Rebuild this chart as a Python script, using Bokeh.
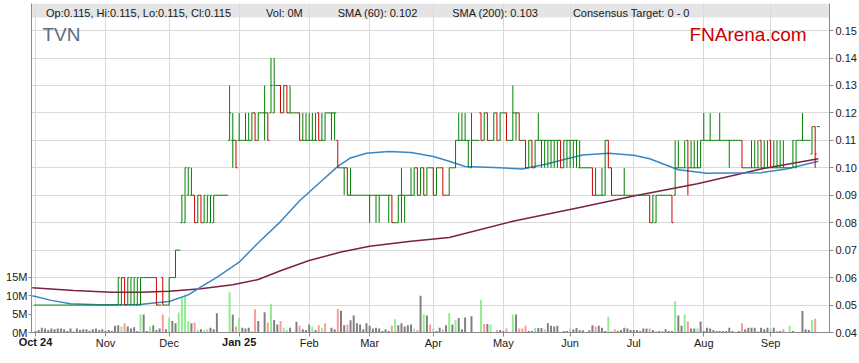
from bokeh.plotting import figure
from bokeh.models import (Range1d, LinearAxis, FixedTicker, PrintfTickFormatter,
                          ColumnDataSource, BoxAnnotation, Label, Legend, LegendItem)
from bokeh.embed import file_html
from bokeh.resources import INLINE

FONT = "Liberation Sans"

ticker_symbol = "TVN"
brand = "FNArena.com"

# trading-day index of the first session of each month, with labels
month_idx = [0, 22, 42, 64, 86, 105, 125, 147, 168, 188, 210, 231]
month_labels = ["Oct 24", "Nov", "Dec", "Jan 25", "Feb", "Mar", "Apr", "May", "Jun", "Jul", "Aug", "Sep"]
bold_months = ["Oct 24", "Jan 25"]

price_ticks = [0.04, 0.05, 0.06, 0.07, 0.08, 0.09, 0.10, 0.11, 0.12, 0.13, 0.14, 0.15]
vol_ticks = [0, 5, 10, 15]

# daily prices in cents (Oct 2024 - Sep 2025)
opens_c = [
    5, 5, 5, 5, 5, 5, 5, 5, 5, 5,
    5, 5, 5, 5, 5, 5, 5, 5, 5, 5,
    5, 5, 5, 5, 5, 5, 5, 5, 6, 5,
    5, 5, 5, 5, 6, 6, 6, 6, 6, 5,
    6, 5, 5, 6, 6, 7, 8, 8, 9, 9,
    9, 8, 9, 8, 8, 8, 8, 9, 9, 9,
    9, 11, 11, 11, 11, 11, 11, 11, 11, 12,
    11, 12, 12, 12, 12, 12, 13, 13, 12, 13,
    12, 12, 12, 12, 11, 11, 11, 11, 11, 12,
    11, 11, 12, 12, 12, 11, 10, 10, 10, 9,
    9, 9, 9, 9, 9, 9, 9, 9, 9, 9,
    9, 9, 9, 8, 8, 9, 9, 9, 9, 9,
    10, 9, 10, 9, 10, 10, 9, 10, 10, 9,
    9, 10, 10, 11, 11, 11, 11, 10, 11, 11,
    12, 11, 12, 11, 11, 12, 11, 12, 12, 11,
    11, 12, 12, 11, 11, 10, 11, 10, 11, 11,
    11, 11, 11, 11, 11, 11, 10, 11, 11, 11,
    11, 10, 10, 10, 10, 10, 9, 9, 9, 9,
    11, 10, 9, 9, 9, 9, 9, 9, 9, 9,
    9, 9, 9, 9, 8, 8, 9, 9, 9, 9,
    9, 9, 10, 10, 10, 11, 10, 10, 10, 10,
    11, 11, 11, 11, 11, 11, 11, 11, 11, 11,
    11, 11, 11, 10, 10, 10, 10, 10, 11, 10,
    10, 11, 10, 10, 10, 10, 10, 10, 10, 10,
    11, 11, 11, 11, 10.5, 11.5, 11.5,
]
highs_c = [
    5, 5, 5, 5, 5, 5, 5, 5, 5, 5,
    5, 5, 5, 5, 5, 5, 5, 5, 5, 5,
    5, 5, 5, 5, 5, 5, 6, 6, 6, 6,
    6, 6, 6, 6, 6, 6, 6, 6, 6, 5,
    6, 5, 6, 6, 7, 7, 9, 10, 10, 10,
    9, 9, 9, 9, 9, 9, 9, 9, 9, 9,
    9, 13, 12, 11, 12, 11, 12, 12, 12, 12,
    12, 12, 13, 12, 14, 14, 13, 13, 13, 13,
    13, 12, 12, 12, 12, 12, 12, 12, 12, 12,
    12, 12, 12, 12, 12, 11, 10, 10, 10, 10,
    9, 9, 9, 9, 9, 9, 9, 9, 9, 9,
    9, 9, 9, 8, 9, 10, 9, 9, 10, 10,
    10, 10, 10, 10, 10, 10, 10, 10, 10, 9,
    10, 10, 11, 12, 12, 12, 11, 12, 11, 11,
    12, 12, 12, 11, 12, 12, 12, 12, 12, 11,
    13, 12, 12, 11, 11, 11, 11, 11, 12, 11,
    11, 11, 11, 11, 11, 11, 11, 11, 11, 11,
    11, 11, 10, 10, 10, 10, 10, 9, 10, 11,
    11, 10, 9, 9, 9, 10, 9, 9, 9, 9,
    9, 9, 9, 9, 9, 9, 9, 9, 9, 9,
    9, 11, 11, 10, 11, 11, 11, 11, 11, 11,
    12, 11, 12, 11, 11, 12, 11, 11, 11, 11,
    11, 11, 11, 10, 10, 11, 11, 11, 11, 11,
    11, 11, 11, 11, 11, 11, 10, 10, 11, 11,
    11, 12, 11, 11, 11.5, 11.5, 11.5,
]
lows_c = [
    5, 5, 5, 5, 5, 5, 5, 5, 5, 5,
    5, 5, 5, 5, 5, 5, 5, 5, 5, 5,
    5, 5, 5, 5, 5, 5, 5, 5, 5, 5,
    5, 5, 5, 5, 6, 6, 6, 6, 5, 5,
    5, 5, 5, 6, 6, 7, 8, 8, 9, 9,
    8, 8, 8, 8, 8, 8, 8, 9, 9, 9,
    9, 11, 10, 10, 11, 11, 11, 11, 11, 11,
    11, 12, 11, 11, 12, 12, 13, 12, 12, 12,
    12, 12, 12, 11, 11, 11, 11, 11, 11, 11,
    11, 11, 12, 11, 11, 10, 10, 9, 9, 9,
    9, 9, 9, 9, 9, 8, 9, 8, 8, 9,
    9, 8, 8, 8, 8, 8, 8, 9, 9, 9,
    9, 9, 9, 9, 10, 9, 9, 10, 9, 9,
    9, 10, 10, 11, 11, 11, 10, 10, 11, 11,
    11, 11, 11, 11, 11, 11, 11, 12, 11, 11,
    11, 11, 11, 11, 10, 10, 10, 10, 11, 10,
    10, 10, 10, 10, 10, 10, 10, 10, 10, 10,
    10, 10, 10, 10, 10, 9, 9, 9, 9, 9,
    10, 9, 9, 9, 9, 9, 9, 9, 9, 9,
    9, 9, 9, 8, 8, 8, 9, 9, 9, 9,
    8, 9, 10, 10, 10, 9, 10, 10, 10, 10,
    11, 11, 11, 11, 11, 11, 11, 11, 10, 11,
    11, 11, 10, 10, 10, 10, 10, 10, 10, 10,
    10, 10, 10, 10, 10, 10, 10, 10, 10, 10,
    11, 11, 11, 11, 10.5, 10, 11.5,
]
closes_c = [
    5, 5, 5, 5, 5, 5, 5, 5, 5, 5,
    5, 5, 5, 5, 5, 5, 5, 5, 5, 5,
    5, 5, 5, 5, 5, 5, 6, 6, 5, 6,
    6, 6, 6, 6, 6, 6, 6, 6, 5, 5,
    5, 5, 6, 6, 7, 7, 9, 10, 10, 9,
    8, 9, 8, 9, 9, 9, 9, 9, 9, 9,
    9, 12, 11, 10, 11, 11, 11, 11, 12, 11,
    12, 12, 12, 11, 13, 13, 13, 12, 13, 12,
    12, 12, 12, 11, 11, 11, 11, 11, 11, 11,
    11, 12, 12, 12, 12, 10, 10, 10, 9, 9,
    9, 9, 9, 9, 9, 9, 9, 9, 9, 9,
    9, 9, 8, 8, 9, 9, 9, 9, 9, 10,
    9, 10, 9, 10, 10, 9, 10, 10, 9, 9,
    10, 10, 11, 11, 11, 11, 11, 11, 11, 11,
    11, 12, 11, 11, 12, 11, 12, 12, 11, 11,
    12, 12, 11, 11, 10, 11, 10, 11, 11, 11,
    11, 11, 11, 11, 11, 10, 11, 11, 11, 11,
    11, 10, 10, 10, 10, 9, 9, 9, 9, 11,
    10, 9, 9, 9, 9, 9, 9, 9, 9, 9,
    9, 9, 9, 8, 9, 9, 9, 9, 9, 9,
    8, 10, 10, 10, 10, 10, 10, 10, 10, 11,
    11, 11, 11, 11, 11, 11, 11, 11, 11, 11,
    11, 11, 10, 10, 10, 10, 10, 10, 10, 10,
    10, 10, 10, 10, 10, 10, 10, 10, 11, 11,
    11, 11, 11, 11, 11.5, 10.5, 11.5,
]
# daily volume, millions of shares
volumes_m = [
    0.4, 0.7, 1.3, 1.1, 0.7, 1.1, 0.9, 1.1, 1.1, 0.9,
    0.4, 1.1, 0.3, 1.1, 0.7, 0.9, 0.9, 0.5, 0.9, 1.1,
    0.7, 0.9, 0.4, 0.7, 0.4, 1.8, 2.0, 1.6, 2.5, 1.6,
    1.1, 1.4, 0.4, 4.9, 4.9, 0.4, 1.6, 2.0, 0.7, 1.1,
    4.9, 0.9, 4.0, 3.1, 2.5, 5.4, 9.6, 10.3, 3.1, 2.5,
    2.7, 0.7, 0.9, 0.7, 0.9, 1.3, 0.9, 5.2, 0, 0,
    0, 10.9, 4.9, 1.6, 4.0, 1.3, 1.1, 1.3, 0.4, 6.3,
    3.1, 0, 5.5, 2.7, 7.8, 3.4, 2.2, 3.1, 1.3, 0.7,
    1.3, 0, 2.9, 1.8, 0.9, 0.7, 2.2, 1.6, 0.7, 2.0,
    1.3, 2.5, 0, 1.3, 0.9, 6.4, 5.9, 2.0, 2.2, 3.3,
    4.6, 2.5, 2.2, 0.9, 2.5, 1.8, 1.1, 1.3, 1.1, 0.4,
    0.9, 0.4, 1.8, 3.6, 2.0, 2.5, 1.6, 2.0, 2.2, 1.1,
    0.7, 10.0, 4.9, 4.6, 2.2, 1.1, 0.4, 1.3, 0.9, 2.0,
    5.2, 2.2, 3.4, 3.9, 0.9, 4.1, 0, 4.4, 0, 0,
    8.9, 2.3, 2.3, 2.2, 0, 0.7, 0.7, 0.4, 1.1, 0,
    4.9, 4.9, 1.1, 1.1, 1.8, 0.4, 0.4, 1.2, 1.2, 1.2,
    0.9, 2.5, 1.8, 1.6, 1.8, 0, 0.4, 0.4, 1.1, 0.8,
    1.25, 0.6, 0.6, 0, 0.6, 2.0, 1.6, 1.8, 1.3, 0.4,
    4.3, 0.3, 0.9, 0.4, 0.7, 1.3, 1.1, 0.7, 0.7, 0.7,
    0.4, 1.1, 1.1, 1.1, 0.7, 0.4, 0.4, 0.3, 0.9, 0.4,
    0.4, 8.5, 4.6, 1.8, 4.9, 3.0, 1.1, 1.1, 1.1, 3.0,
    0.4, 1.3, 1.1, 0.7, 0.4, 0.4, 0.4, 0.4, 1.3, 0.4,
    0, 0.4, 2.5, 0.9, 1.3, 1.3, 1.3, 0.4, 1.3, 0.9,
    1.3, 1.1, 1.3, 0.3, 0.4, 0.9, 0, 1.8, 0.4, 0,
    0, 5.8, 0.9, 0.7, 3.4, 3.75, 0,
]
# volume bar direction: n = unchanged, g = up, r = down (10 sessions per string)
vol_dir_rows = [
    "nnnnnnnnnn", "nnnnnnnnnn", "nnnnnnngrn", "nnngnngnnn", "rngnnggggn",
    "rgnggnnnnn", "ngnrgnnngr", "nnnrgnnrgg", "nnnrnnngnr", "grnnnrnnrn",
    "nnnnnnnnnn", "nnrgnnnnng", "rngnrgnnrn", "gngnnnnnnn", "grngnrnnrn",
    "gnrrrnngnn", "gnnnnnnngn", "nnnnnnrnnn", "gnrnnnnnnn", "nnnrngnnnn",
    "ngnngrnngn", "nnnnnnnnnn", "nnrnnnngnn", "ngnnnrngnn", "nnnngrn",
]
vol_dir = list("".join(vol_dir_rows))

# moving averages read at sample sessions
sma60_idx = [-1, 5, 11, 20, 32, 38, 42, 48, 52, 57, 64, 70, 77, 83, 89, 95, 99, 104, 111,
             118, 125, 130, 135, 144, 153, 160, 167, 172, 180, 188, 193, 202, 211, 218,
             228, 236, 246]
sma60_val = [0.0534, 0.0517, 0.0505, 0.0501, 0.0501, 0.0508, 0.0513, 0.0537, 0.0566,
             0.0601, 0.0656, 0.0727, 0.0804, 0.0880, 0.0943, 0.1005, 0.1036, 0.1053,
             0.1059, 0.1056, 0.1041, 0.1024, 0.1005, 0.1001, 0.0996, 0.1012, 0.1033,
             0.1047, 0.1053, 0.1046, 0.1033, 0.0993, 0.0980, 0.0981, 0.0982, 0.0996,
             0.1024]
sma200_idx = [-1, 12, 24, 33, 42, 52, 62, 70, 77, 86, 96, 105, 118, 130, 150, 171, 188,
              208, 228, 246]
sma200_val = [0.0563, 0.0553, 0.0547, 0.0547, 0.0550, 0.0559, 0.0574, 0.0593, 0.0625,
              0.0662, 0.0693, 0.0714, 0.0732, 0.0746, 0.0805, 0.0855, 0.0897, 0.0942,
              0.0996, 0.1033]
consensus_low, consensus_high = 0, 0

# ---------------------------------------------------------------- layout
FRAME_H = 329
Y0 = 0.04
PX_PER_CENT = 27.45
Y1 = Y0 + FRAME_H / PX_PER_CENT / 100
V1 = FRAME_H / 3.687
px_per_price = PX_PER_CENT * 100

n = len(closes_c)
xs = list(range(n))
o = [v / 100 for v in opens_c]
h = [v / 100 for v in highs_c]
l = [v / 100 for v in lows_c]
c = [v / 100 for v in closes_c]

GREEN, RED = "#008000", "#cc0000"
bar_color = [RED if cc < oo else GREEN for oo, cc in zip(o, c)]
vol_palette = {"n": "#808080", "g": "#90ee90", "r": "#ff9999"}
vol_color = [vol_palette[d] for d in vol_dir]

src = ColumnDataSource(dict(
    x=xs, xl=[i - 0.5 for i in xs], xr=[i + 0.5 for i in xs],
    o=o, h=h, l=l, c=c, color=bar_color, v=volumes_m, vcolor=vol_color,
))

p = figure(width=859, height=360,
           x_range=Range1d(-1.25, 249.5), y_range=Range1d(Y0, Y1),
           y_axis_location="right", output_backend="svg", toolbar_location=None,
           min_border_top=3, min_border_left=31, min_border_right=28, min_border_bottom=28)
p.extra_y_ranges = {"vol": Range1d(0, V1)}
p.outline_line_color = None
p.background_fill_color = "white"


def style_axis(ax):
    ax.axis_line_color = "#8a8a8a"
    ax.major_tick_line_color = "#8a8a8a"
    ax.major_tick_out = 4
    ax.major_tick_in = 0
    ax.minor_tick_line_color = None
    ax.major_label_text_font = FONT
    ax.major_label_text_font_size = "11px"
    ax.major_label_text_color = "#1a1a1a"
    ax.major_label_standoff = 2


xa = p.xaxis[0]
xa.ticker = FixedTicker(ticks=month_idx)
xa.major_label_overrides = {i: ("" if lab in bold_months else lab)
                            for i, lab in zip(month_idx, month_labels)}
style_axis(xa)
xa.major_label_standoff = 0

# bold month labels: a second, line-less axis pulled up into the first one's label row
bold_ticks = [i for i, lab in zip(month_idx, month_labels) if lab in bold_months]
xb = LinearAxis(ticker=FixedTicker(ticks=bold_ticks),
                major_label_overrides={i: lab for i, lab in zip(month_idx, month_labels)
                                       if lab in bold_months})
style_axis(xb)
xb.axis_line_color = None
xb.major_tick_line_color = None
xb.major_tick_out = 0
xb.major_label_standoff = -16
xb.major_label_text_font_style = "bold"
p.add_layout(xb, "below")

ya = p.yaxis[0]
ya.ticker = FixedTicker(ticks=price_ticks)
ya.formatter = PrintfTickFormatter(format="%.2f")
style_axis(ya)

va = LinearAxis(y_range_name="vol", ticker=FixedTicker(ticks=vol_ticks),
                formatter=PrintfTickFormatter(format="%dM"))
style_axis(va)
va.major_label_standoff = 1
va.major_tick_out = 3
p.add_layout(va, "left")

for g in (p.xgrid[0], p.ygrid[0]):
    g.grid_line_color = "#d9d9d9"
    g.grid_line_width = 1

# legend band
band = BoxAnnotation(bottom=Y1 - 14 / px_per_price, fill_color="#e4e4e4", fill_alpha=1,
                     line_color=None, level="image")
p.add_layout(band)

# volume
p.vbar(x="x", top="v", bottom=0, width=0.62, y_range_name="vol",
       fill_color="vcolor", line_color=None, source=src)

# moving averages
p.line(sma200_idx, sma200_val, line_color="#7d2046", line_width=1.5)
p.line(sma60_idx, sma60_val, line_color="#3a86c4", line_width=1.5)

# OHLC bars
p.segment(x0="x", y0="l", x1="x", y1="h", line_color="color", line_width=1, source=src)
p.segment(x0="xl", y0="o", x1="x", y1="o", line_color="color", line_width=1, source=src)
p.segment(x0="x", y0="c", x1="xr", y1="c", line_color="color", line_width=1, source=src)

# legend
last = n - 1
legend_specs = [
    (f"Op:{o[last]:.3f}, Hi:{h[last]:.3f}, Lo:{l[last]:.3f}, Cl:{c[last]:.3f}", "#006400"),
    (f"Vol: {volumes_m[last]:.0f}M", "#90ee90"),
    (f"SMA (60): {sma60_val[-1]:.3f}", "#135c9c"),
    (f"SMA (200): {sma200_val[-1]:.3f}", "#7a0c2e"),
    (f"Consensus Target: {consensus_low} - {consensus_high}", "#5a5a88"),
]
items = []
for text, col in legend_specs:
    r = p.quad(left=[], right=[], top=[], bottom=[], fill_color=col, line_color="#3a3a3a")
    items.append(LegendItem(label=text, renderers=[r]))
leg = Legend(items=items, location="top_left", orientation="horizontal",
             margin=0, padding=4, spacing=24, glyph_width=7, glyph_height=7,
             label_standoff=4, label_height=7, label_text_font=FONT,
             label_text_font_size="11px", label_text_color="#1a1a1a",
             background_fill_alpha=0, border_line_alpha=0)
p.add_layout(leg)

# titles
p.add_layout(Label(x=2.2, y=Y1 - 20 / px_per_price, text=ticker_symbol, text_font=FONT,
                   text_font_size="19px", text_color="#5b6b80", text_baseline="top"))
p.add_layout(Label(x=242.3, y=Y1 - 20 / px_per_price, text=brand, text_font=FONT,
                   text_font_size="19px", text_color="#cc0000", text_baseline="top",
                   text_align="right"))

open("out.html", "w").write(file_html(p, INLINE))
